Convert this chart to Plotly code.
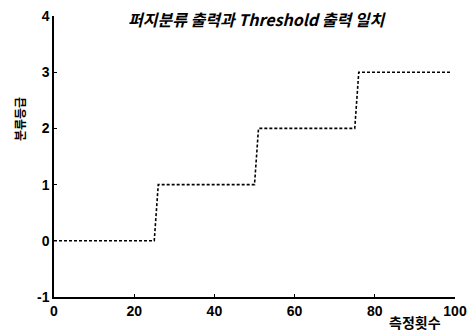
import plotly.graph_objects as go

# step change points of the output (measurement count vs class grade)
x_vals = [0, 25, 26, 50, 51, 75, 76, 99]
y_vals = [0, 0, 1, 1, 2, 2, 3, 3]
x_ticks = [0, 20, 40, 60, 80, 100]
y_ticks = [-1, 0, 1, 2, 3, 4]
y_tick_text = ["-1", "0", "1", "2", "3", "4"]

title_text = "퍼지분류 출력과 Threshold 출력 일치"
x_title = "측정횟수"
y_title = "분류등급"

OFF = 8  # page body margin
W, H = 475 - OFF, 331 - OFF
L, R, T, B = 54 - OFF, 20, 16 - OFF, 34
plot_w = W - L - R
plot_h = H - T - B


def px_to_paper(px, py):
    fx = px - OFF
    fy = py - OFF
    return (fx - L) / plot_w, (H - B - fy) / plot_h


fig = go.Figure()
fig.add_trace(go.Scatter(
    x=x_vals, y=y_vals, mode="lines",
    line=dict(color="black", width=1.6, dash="3px,2px"),
    showlegend=False, hoverinfo="skip"))

tick_font = dict(family="Liberation Sans, Arial, sans-serif", size=14, color="black", weight="bold")

tx, ty = px_to_paper(258, 19)
xx, xy = px_to_paper(415, 322)
yx, yy = px_to_paper(19, 119)

fig.update_layout(
    width=W, height=H,
    margin=dict(l=L, r=R, t=T, b=B),
    paper_bgcolor="white", plot_bgcolor="white",
    xaxis=dict(range=[0, 100], tickvals=x_ticks, ticks="inside", ticklen=3,
               showline=True, linecolor="black", linewidth=1.5, showgrid=False,
               zeroline=False, tickfont=tick_font, tickcolor="black", automargin=False,
               ticklabeloverflow="allow"),
    yaxis=dict(range=[-1, 4], tickvals=y_ticks, ticktext=y_tick_text, ticks="inside", ticklen=3,
               showline=True, linecolor="black", linewidth=1.5, showgrid=False,
               zeroline=False, tickfont=tick_font, tickcolor="black", automargin=False,
               ticklabeloverflow="allow"),
    annotations=[
        dict(text="<b><i>" + title_text + "</i></b>", x=tx, y=ty,
             xref="paper", yref="paper", xanchor="center", yanchor="middle", showarrow=False,
             font=dict(family="Noto Sans CJK KR, Liberation Serif, serif", size=16, color="black")),
        dict(text="<b>" + x_title + "</b>", x=xx, y=xy,
             xref="paper", yref="paper", xanchor="center", yanchor="middle", showarrow=False,
             font=dict(family="Noto Sans CJK KR, sans-serif", size=14, color="black")),
        dict(text="<b>" + y_title + "</b>", x=yx, y=yy,
             xref="paper", yref="paper", xanchor="center", yanchor="middle", textangle=-90,
             showarrow=False,
             font=dict(family="Noto Sans CJK KR, sans-serif", size=12, color="black")),
    ],
)

fig.write_html("out.html")
